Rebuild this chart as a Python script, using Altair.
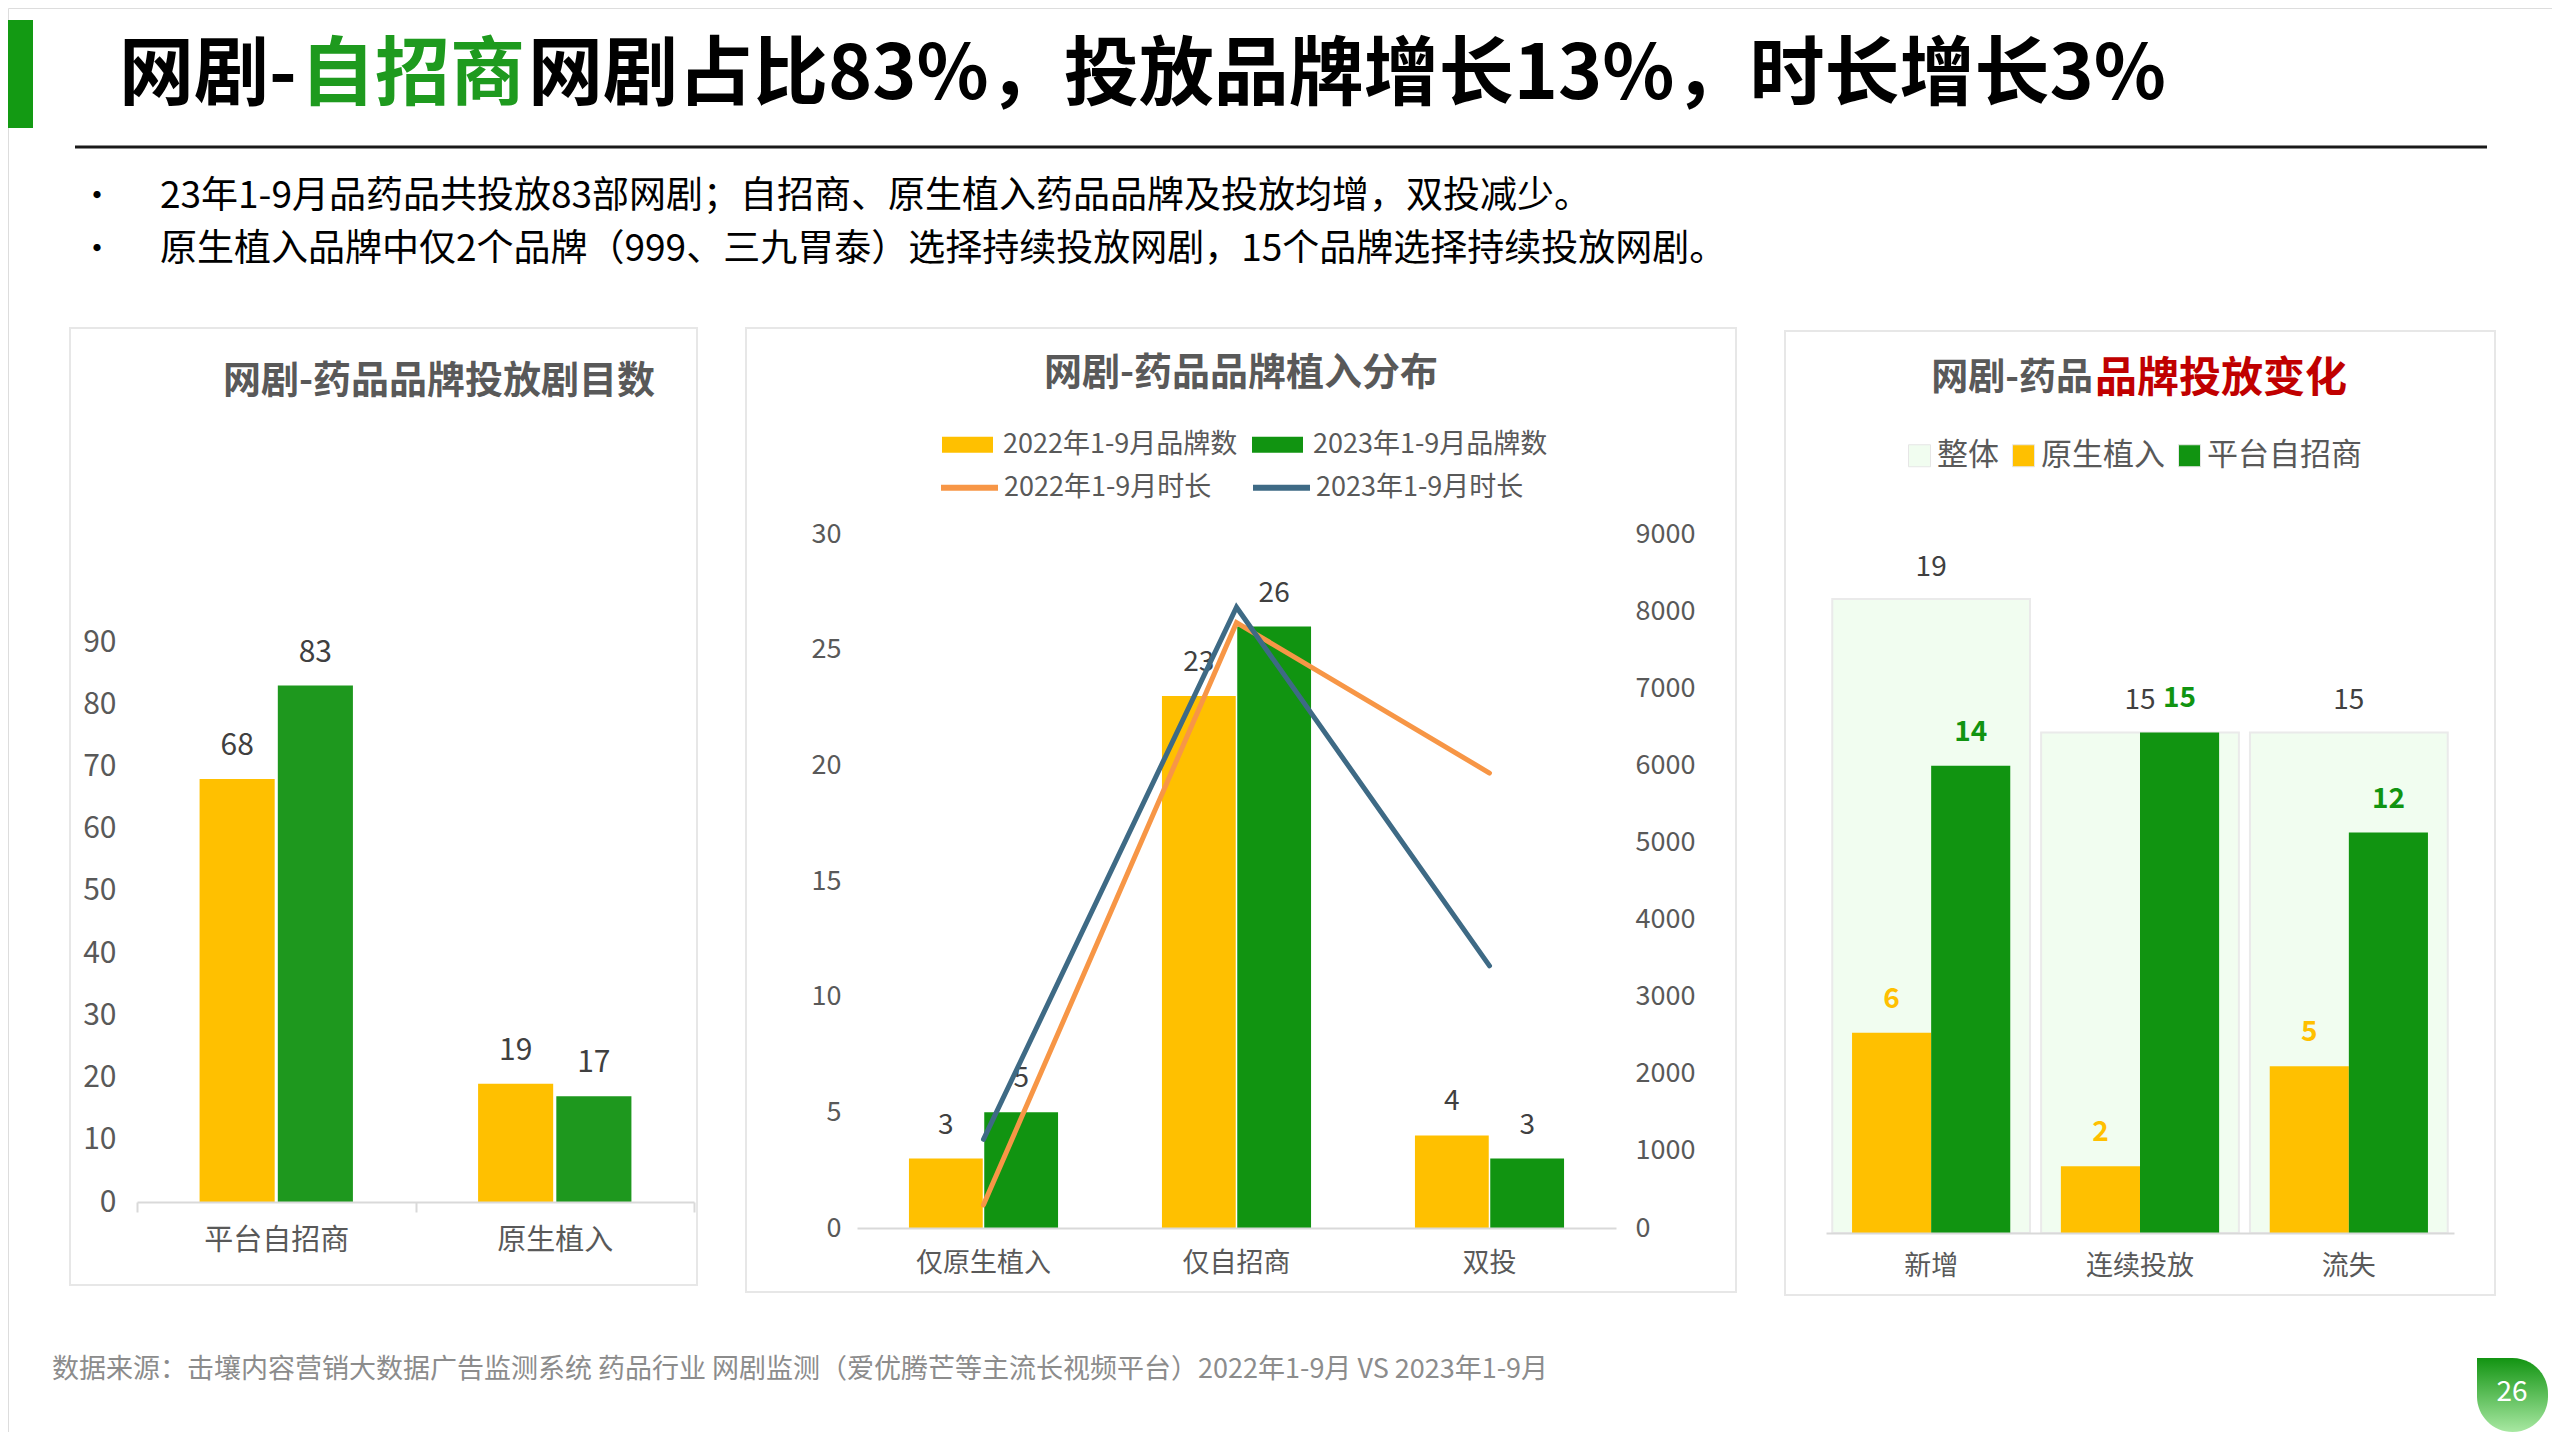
import altair as alt
import pandas as pd

FONT = "Microsoft YaHei, Noto Sans CJK SC, sans-serif"
W, H = 2544, 1424
GRAY = "#595959"
DARK = "#404040"
YELLOW = "#FFC000"
GREEN1 = "#1E981E"
GREEN = "#119411"
ORANGE = "#F79646"
BLUE = "#3E6A85"
AXIS_LINE = "#D9D9D9"

# ---------------- text ----------------
title_parts = ["网剧-", "自招商", "网剧占比83%，投放品牌增长13%，时长增长3%"]
bullets = [
    "23年1-9月品药品共投放83部网剧；自招商、原生植入药品品牌及投放均增，双投减少。",
    "原生植入品牌中仅2个品牌（999、三九胃泰）选择持续投放网剧，15个品牌选择持续投放网剧。",
]
footer = "数据来源：击壤内容营销大数据广告监测系统 药品行业 网剧监测（爱优腾芒等主流长视频平台）2022年1-9月 VS 2023年1-9月"
page_no = "26"

# ---------------- panel 1 ----------------
p1_title = "网剧-药品品牌投放剧目数"
p1_cats = ["平台自招商", "原生植入"]
p1_series = ["2022年1-9月", "2023年1-9月"]
p1_2022 = [68, 19]
p1_2023 = [83, 17]
p1_ticks = [0, 10, 20, 30, 40, 50, 60, 70, 80, 90]

# ---------------- panel 2 ----------------
p2_title = "网剧-药品品牌植入分布"
p2_cats = ["仅原生植入", "仅自招商", "双投"]
p2_bar_series = ["2022年1-9月品牌数", "2023年1-9月品牌数"]
p2_line_series = ["2022年1-9月时长", "2023年1-9月时长"]
p2_brands_2022 = [3, 23, 4]
p2_brands_2023 = [5, 26, 3]
p2_dur_2022 = [300, 7850, 5900]
p2_dur_2023 = [1150, 8050, 3400]
p2_left_ticks = [0, 5, 10, 15, 20, 25, 30]
p2_right_ticks = [0, 1000, 2000, 3000, 4000, 5000, 6000, 7000, 8000, 9000]

# ---------------- panel 3 ----------------
p3_title_a = "网剧-药品"
p3_title_b = "品牌投放变化"
p3_cats = ["新增", "连续投放", "流失"]
p3_series = ["整体", "原生植入", "平台自招商"]
p3_total = [19, 15, 15]
p3_native = [6, 2, 5]
p3_platform = [14, 15, 12]


# ---------------- helpers ----------------
def txt(s, x, y, size, color, weight="normal", align="left", baseline="middle"):
    return alt.Chart(pd.DataFrame({"t": [s]})).mark_text(
        font=FONT, fontSize=size, color=color, fontWeight=weight,
        align=align, baseline=baseline
    ).encode(x=alt.value(x), y=alt.value(y), text="t:N")


def box(x1, x2, y1, y2, fill="white", stroke=None, sw=0, **kw):
    props = dict(fill=fill, strokeWidth=sw, **kw)
    if stroke:
        props["stroke"] = stroke
    return alt.Chart(pd.DataFrame({"a": [0]})).mark_rect(**props).encode(
        x=alt.value(x1), x2=alt.value(x2), y=alt.value(y1), y2=alt.value(y2)
    )


decor = [
    box(0, 25, 12, 120, fill="#139A13"),
    txt(title_parts[0], 111, 68, 75, "#000000", "bold"),
    txt(title_parts[1], 292, 68, 75, "#1E9A1E", "bold"),
    txt(title_parts[2], 520, 68, 75, "#000000", "bold"),
    alt.Chart(pd.DataFrame({"a": [0]})).mark_rule(color="#1a1a1a", strokeWidth=3).encode(
        x=alt.value(67), x2=alt.value(2479), y=alt.value(139)),
    txt("•", 72, 190, 34, "#000000"),
    txt(bullets[0], 152, 189, 37, "#000000"),
    txt("•", 72, 243, 34, "#000000"),
    txt(bullets[1], 152, 242, 37, "#000000"),
    txt(footer, 44, 1362, 27, "#8C8C8C"),
    alt.Chart(pd.DataFrame({"a": [0]})).mark_rect(
        fill=alt.Gradient(gradient="linear",
                          stops=[alt.GradientStop(color="#129412", offset=0),
                                 alt.GradientStop(color="#A8E8A2", offset=1)],
                          x1=0, x2=0, y1=0, y2=1),
        cornerRadiusTopLeft=0, cornerRadiusTopRight=36,
        cornerRadiusBottomLeft=36, cornerRadiusBottomRight=36,
    ).encode(x=alt.value(2469), x2=alt.value(2540), y=alt.value(1350), y2=alt.value(1424)),
    txt(page_no, 2504, 1385, 28, "white", align="center"),
    # panel frames (transparent fill so the axes stay visible)
    box(62, 689, 320, 1277, fill="white", stroke="#E7E7E7", sw=2, fillOpacity=0),
    box(738, 1728, 320, 1284, fill="white", stroke="#E7E7E7", sw=2, fillOpacity=0),
    box(1777, 2487, 323, 1287, fill="white", stroke="#E7E7E7", sw=2, fillOpacity=0),
    # panel titles
    txt(p1_title, 431, 374, 38, GRAY, "bold", align="center"),
    txt(p2_title, 1233, 366, 38, GRAY, "bold", align="center"),
    txt(p3_title_a, 2085, 371, 37, GRAY, "bold", align="right"),
    txt(p3_title_b, 2087, 371, 42, "#C00000", "bold", align="left"),
]

# ---------------- panel 1 chart ----------------
df1 = pd.DataFrame({
    "cat": p1_cats * 2,
    "series": [p1_series[0]] * 2 + [p1_series[1]] * 2,
    "value": p1_2022 + p1_2023,
})
x1 = alt.X("cat:N", sort=p1_cats,
           scale=alt.Scale(domain=p1_cats, range=[129, 686], paddingInner=0, paddingOuter=0),
           axis=alt.Axis(orient="bottom", offset=1194 - H, title=None, labelAngle=0, zindex=1,
                         labelFont=FONT, labelFontSize=29, labelColor=GRAY, labelPadding=14,
                         tickBand="extent", tickSize=10, tickColor=AXIS_LINE, tickWidth=2,
                         domainColor=AXIS_LINE, domainWidth=2, grid=False))
y1 = alt.Y("value:Q", stack=None,
           scale=alt.Scale(domain=[0, 90], range=[1194, 634], nice=False),
           axis=alt.Axis(orient="left", offset=-108, values=p1_ticks, domain=False, ticks=False,
                         tickSize=0, grid=False, labelPadding=0, labelFont=FONT, zindex=1,
                         labelFontSize=30, labelColor=GRAY, title=None, format="d"))
xo1 = alt.XOffset("series:N", sort=p1_series,
                  scale=alt.Scale(domain=p1_series, paddingInner=0.04, paddingOuter=0.8))
c1 = alt.Color("series:N", scale=alt.Scale(domain=p1_series, range=[YELLOW, GREEN1]), legend=None)
bars1 = alt.Chart(df1).mark_bar().encode(x=x1, xOffset=xo1, y=y1, color=c1)
lab1 = alt.Chart(df1).mark_text(font=FONT, fontSize=30, color=DARK, baseline="middle", dy=-33).encode(
    x=x1, xOffset=xo1, y=y1, text="value:Q")
p1 = alt.layer(bars1, lab1)

# ---------------- panel 2 chart ----------------
df2b = pd.DataFrame({
    "cat": p2_cats * 2,
    "series": [p2_bar_series[0]] * 3 + [p2_bar_series[1]] * 3,
    "value": p2_brands_2022 + p2_brands_2023,
})
df2l = pd.DataFrame({
    "cat": p2_cats * 2,
    "idx": [0, 1, 2] * 2,
    "series": [p2_line_series[0]] * 3 + [p2_line_series[1]] * 3,
    "value": p2_dur_2022 + p2_dur_2023,
})
x2 = alt.X("cat:N", sort=p2_cats,
           scale=alt.Scale(domain=p2_cats, range=[849, 1608], paddingInner=0, paddingOuter=0),
           axis=alt.Axis(orient="bottom", offset=1220 - H, title=None, labelAngle=0, zindex=1,
                         labelFont=FONT, labelFontSize=27, labelColor=GRAY, labelPadding=22,
                         ticks=False, tickSize=0, domainColor=AXIS_LINE, domainWidth=2, grid=False))
y2l = alt.Y("value:Q", stack=None,
            scale=alt.Scale(domain=[0, 30], range=[1220, 526], nice=False),
            axis=alt.Axis(orient="left", offset=-833, values=p2_left_ticks, domain=False,
                          ticks=False, tickSize=0, grid=False, labelPadding=0, labelFont=FONT,
                          zindex=1, labelFontSize=27, labelColor=GRAY, title=None, format="d"))
y2r = alt.Y("value:Q",
            scale=alt.Scale(domain=[0, 9000], range=[1220, 526], nice=False),
            axis=alt.Axis(orient="right", offset=1627 - W, values=p2_right_ticks, domain=False,
                          ticks=False, tickSize=0, grid=False, labelPadding=0, labelFont=FONT,
                          zindex=1, labelFontSize=27, labelColor=GRAY, title=None, format="d"))
xo2 = alt.XOffset("series:N", sort=p2_bar_series,
                  scale=alt.Scale(domain=p2_bar_series, paddingInner=0.02, paddingOuter=0.69))
c2 = alt.Color("series:N", scale=alt.Scale(domain=p2_bar_series, range=[YELLOW, GREEN]),
               legend=alt.Legend(orient="none", legendX=934, legendY=411, direction="horizontal",
                                 title=None, symbolType="M-1,-0.31H1V0.31H-1Z", symbolSize=2601,
                                 symbolStrokeWidth=0, labelFont=FONT, labelFontSize=27,
                                 labelLimit=500, labelColor=GRAY, labelOffset=10,
                                 columnPadding=14, padding=0))
s2 = alt.Stroke("series:N", scale=alt.Scale(domain=p2_line_series, range=[ORANGE, BLUE]),
                legend=alt.Legend(orient="none", legendX=930, legendY=448, direction="horizontal",
                                  title=None, symbolType="stroke", symbolSize=3249,
                                  symbolStrokeWidth=6, labelFont=FONT, labelFontSize=27,
                                  labelLimit=500, labelColor=GRAY, labelOffset=3,
                                  columnPadding=29, padding=0))
bars2 = alt.Chart(df2b).mark_bar().encode(x=x2, xOffset=xo2, y=y2l, color=c2)
lab2 = alt.Chart(df2b).mark_text(font=FONT, fontSize=28, color=DARK, baseline="middle", dy=-33).encode(
    x=x2, xOffset=xo2, y=y2l, text="value:Q")
lines2 = alt.Chart(df2l).mark_line(strokeWidth=5, strokeCap="round").encode(
    x=x2, y=y2r, stroke=s2, order="idx:Q")
p2 = alt.layer(alt.layer(bars2, lab2), lines2).resolve_scale(y="independent")

# ---------------- panel 3 chart ----------------
df3t = pd.DataFrame({"cat": p3_cats, "series": [p3_series[0]] * 3, "value": p3_total})
df3n = pd.DataFrame({"cat": p3_cats, "series": [p3_series[1]] * 3, "value": p3_native})
df3p = pd.DataFrame({"cat": p3_cats, "series": [p3_series[2]] * 3, "value": p3_platform})
df3 = pd.concat([df3n, df3p], ignore_index=True)
x3 = alt.X("cat:N", sort=p3_cats,
           scale=alt.Scale(domain=p3_cats, range=[1818, 2446], paddingInner=0.053, paddingOuter=0.03),
           axis=alt.Axis(orient="bottom", offset=1225 - H, title=None, labelAngle=0, zindex=1,
                         labelFont=FONT, labelFontSize=27, labelColor=GRAY, labelPadding=20,
                         ticks=False, tickSize=0, domainColor=AXIS_LINE, domainWidth=2, grid=False))
y3 = alt.Y("value:Q", stack=None, scale=alt.Scale(domain=[0, 19], range=[1225, 591], nice=False),
           axis=None)
xo3 = alt.XOffset("series:N", sort=p3_series[1:],
                  scale=alt.Scale(domain=p3_series[1:], paddingInner=0, paddingOuter=0.25))
c3 = alt.Color("series:N", sort=p3_series,
               scale=alt.Scale(domain=p3_series, range=["#F1FDF0", YELLOW, GREEN]),
               legend=alt.Legend(orient="none", legendX=1896, legendY=432, direction="horizontal",
                                 title=None, symbolType="square", symbolSize=484,
                                 symbolStrokeColor="#E6E6E6", symbolStrokeWidth=1,
                                 labelFont=FONT, labelFontSize=31, labelColor=GRAY,
                                 labelLimit=500, labelOffset=2, columnPadding=9, padding=0))
bg3 = alt.Chart(df3t).mark_bar(stroke="#EAEAEA", strokeWidth=2).encode(x=x3, y=y3, color=c3)
fg3 = alt.Chart(df3).mark_bar().encode(x=x3, xOffset=xo3, y=y3, color=c3)
labt3 = alt.Chart(df3t).mark_text(font=FONT, fontSize=28, color=DARK, baseline="middle", dy=-31).encode(
    x=x3, y=y3, text="value:Q")
labn3 = alt.Chart(df3n).mark_text(font=FONT, fontSize=28, color=YELLOW, fontWeight="bold",
                                  baseline="middle", dy=-33).encode(
    x=x3, xOffset=xo3, y=y3, text="value:Q")
labp3 = alt.Chart(df3p).mark_text(font=FONT, fontSize=28, color=GREEN, fontWeight="bold",
                                  baseline="middle", dy=-33).encode(
    x=x3, xOffset=xo3, y=y3, text="value:Q")
p3 = alt.layer(bg3, fg3, labt3, labn3, labp3)

chart = alt.layer(*decor, p1, p2, p3).resolve_scale(
    x="independent", y="independent", color="independent",
    xOffset="independent", stroke="independent"
).properties(
    width=W, height=H, padding=0, autosize=alt.AutoSizeParams(type="none")
).configure_view(stroke=None).configure(background="white")

chart.save("out.html", embed_options={"renderer": "svg", "actions": False})
